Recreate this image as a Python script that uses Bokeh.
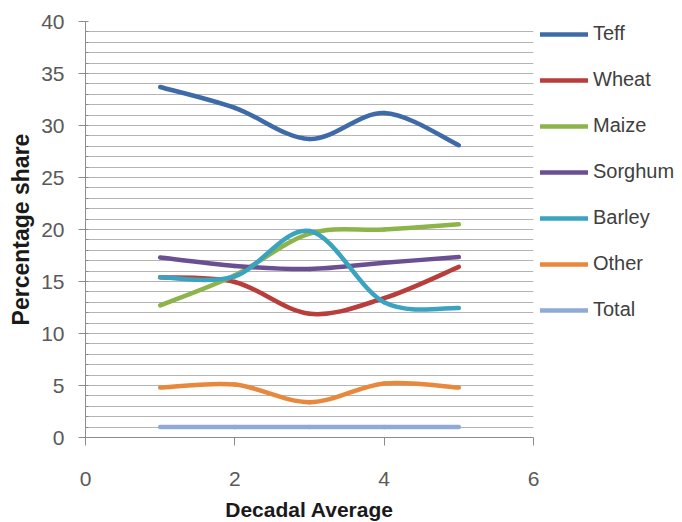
import numpy as np
from bokeh.plotting import figure
from bokeh.models import Range1d, SingleIntervalTicker, Legend, LegendItem, ColumnDataSource
from bokeh.embed import file_html
from bokeh.resources import INLINE

decades = [1, 2, 3, 4, 5]
teff = [33.7, 31.7, 28.7, 31.2, 28.1]
wheat = [15.4, 14.95, 11.9, 13.4, 16.4]
maize = [12.7, 15.6, 19.6, 20.0, 20.5]
sorghum = [17.3, 16.5, 16.2, 16.8, 17.35]
barley = [15.4, 15.5, 19.85, 13.0, 12.45]
other = [4.8, 5.1, 3.4, 5.2, 4.8]
total = [1.0, 1.0, 1.0, 1.0, 1.0]

series_names = ["Teff", "Wheat", "Maize", "Sorghum", "Barley", "Other", "Total"]
series_values = [teff, wheat, maize, sorghum, barley, other, total]
series_colors = ["#3E6BA8", "#B83D3B", "#8DB44B", "#6A4F93", "#3AA3C0", "#E8883C", "#8FAAD4"]

FONT = "Liberation Sans"

p = figure(frame_width=448, frame_height=416, output_backend="svg", toolbar_location=None,
           x_range=Range1d(0, 6), y_range=Range1d(0, 40),
           min_border_left=85, min_border_top=21, min_border_bottom=84, min_border_right=0)
p.outline_line_color = None
p.background_fill_color = "white"
p.border_fill_color = "white"


def smooth_segments(xs, ys):
    P = np.column_stack([np.asarray(xs, float), np.asarray(ys, float)])
    ext = np.vstack([P[:1], P, P[-1:]])
    rows = {"x0": [], "y0": [], "x1": [], "y1": [], "cx0": [], "cy0": [], "cx1": [], "cy1": []}
    for i in range(len(P) - 1):
        p0, p1, p2, p3 = ext[i], ext[i + 1], ext[i + 2], ext[i + 3]
        c0 = p1 + (p2 - p0) / 6.0
        c1 = p2 - (p3 - p1) / 6.0
        rows["x0"].append(p1[0]); rows["y0"].append(p1[1])
        rows["x1"].append(p2[0]); rows["y1"].append(p2[1])
        rows["cx0"].append(c0[0]); rows["cy0"].append(c0[1])
        rows["cx1"].append(c1[0]); rows["cy1"].append(c1[1])
    return ColumnDataSource(rows)


items = []
for name, vals, col in zip(series_names, series_values, series_colors):
    src = smooth_segments(decades, vals)
    r = p.bezier(x0="x0", y0="y0", x1="x1", y1="y1", cx0="cx0", cy0="cy0", cx1="cx1", cy1="cy1",
                 source=src, line_color=col, line_width=4.5, line_cap="round")
    items.append(LegendItem(label=name, renderers=[r], index=0))

# grid
p.xgrid.grid_line_color = None
p.ygrid.ticker = SingleIntervalTicker(interval=1)
p.ygrid.grid_line_color = "#B4B4B4"
p.ygrid.grid_line_width = 1

# axes
p.xaxis.ticker = SingleIntervalTicker(interval=2, num_minor_ticks=0)
p.yaxis.ticker = SingleIntervalTicker(interval=5, num_minor_ticks=5)
for ax in (p.xaxis[0], p.yaxis[0]):
    ax.axis_line_color = "#8C8C8C"
    ax.major_tick_line_color = "#8C8C8C"
    ax.minor_tick_line_color = "#8C8C8C"
    ax.major_label_text_font = FONT
    ax.major_label_text_font_size = "21px"
    ax.major_label_text_color = "#595959"
    ax.axis_label_text_font = FONT
    ax.axis_label_text_font_style = "bold"
    ax.axis_label_text_color = "#1A1A1A"
    ax.major_tick_in = 0

p.xaxis.major_tick_out = 8
p.xaxis.minor_tick_out = 0
p.xaxis.major_label_standoff = 26
p.xaxis.axis_label = "Decadal Average"
p.xaxis.axis_label_text_font_size = "21px"
p.xaxis.axis_label_standoff = 9

p.yaxis.major_tick_out = 7
p.yaxis.minor_tick_in = 3
p.yaxis.minor_tick_out = 0
p.yaxis.major_label_standoff = 14
p.yaxis.axis_label = "Percentage share"
p.yaxis.axis_label_text_font_size = "23px"
p.yaxis.axis_label_standoff = 4

legend = Legend(items=items, location=(7, 116), margin=0, padding=0,
                glyph_width=48, glyph_height=20, label_height=20, spacing=23,
                label_standoff=5, label_text_font=FONT, label_text_font_size="20px",
                label_text_color="#404040", border_line_color=None,
                background_fill_alpha=0)
p.add_layout(legend, "right")

open("out.html", "w").write(file_html(p, INLINE))
